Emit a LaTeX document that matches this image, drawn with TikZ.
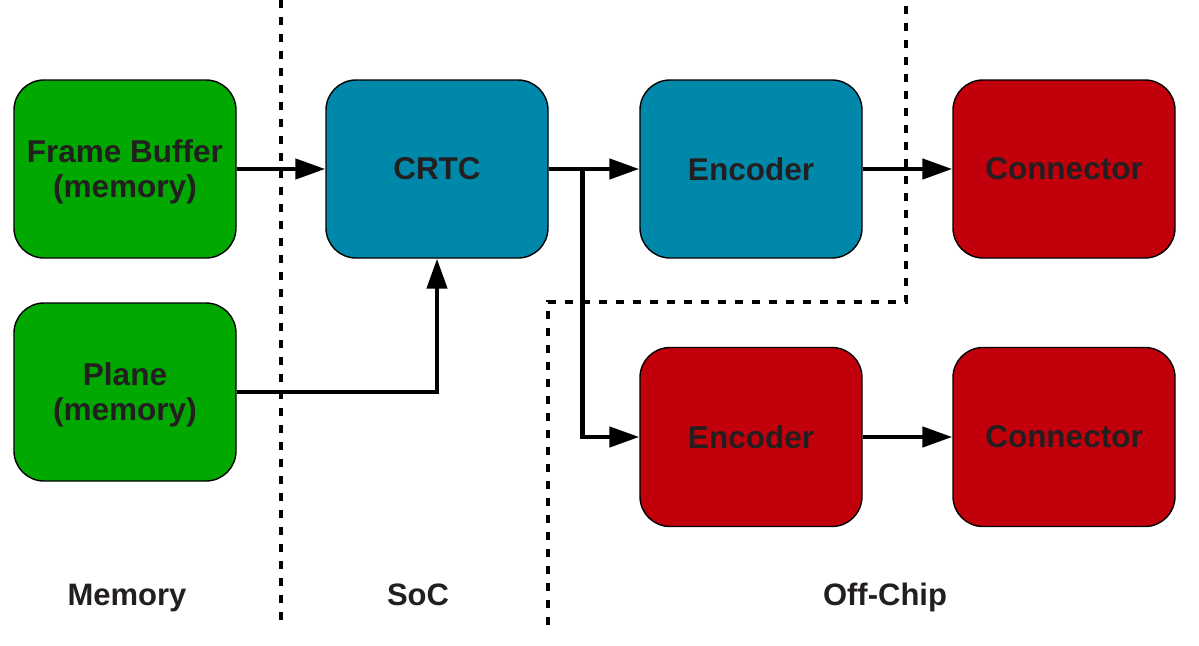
\documentclass[tikz,border=0pt]{standalone}
\usepackage{fontspec}
\setmainfont{Liberation Sans}
\usetikzlibrary{arrows.meta,calc}
\definecolor{memgreen}{HTML}{00A800}
\definecolor{socblue}{HTML}{0088AA}
\definecolor{offred}{HTML}{C1000B}
\definecolor{txt}{HTML}{231F20}
\newcommand{\toplinestrut}{\rule{0pt}{28pt}}
\tikzset{
  blk/.style={draw=black, line width=1.4pt, rounded corners=30pt, minimum width=222pt, minimum height=178pt, inner sep=0pt, align=center, text=txt, font=\fontsize{31.5}{35}\selectfont\bfseries},
  memblk/.style={blk, fill=memgreen},
  socblk/.style={blk, fill=socblue},
  offblk/.style={blk, fill=offred},
  conn/.style={line width=4.5pt, -{Triangle[length=30pt,width=20pt]}},
  border/.style={line width=4.5pt, dash pattern=on 8pt off 9pt},
  lbl/.style={text=txt, anchor=base, inner sep=0pt, font=\fontsize{31}{35}\selectfont\bfseries}
}
\begin{document}
\begin{tikzpicture}[x=1pt,y=-1pt]
\useasboundingbox (0,0) rectangle (1199,645);
% domain borders
\coordinate (b1top) at (281,0);
\coordinate (b1bot) at (281,620);
\coordinate (b2bot) at (548,625);
\coordinate (b2mid) at (548,302);
\coordinate (b2cor) at (906,302);
\coordinate (b2top) at (906,0);
\draw[border] (b1top) -- (b1bot);
\draw[border] (b2bot) -- (b2mid) -- (b2cor) -- (b2top);
% blocks
\node[memblk] (fb) at (125,169) {\toplinestrut Frame Buffer\\(memory)};
\node[memblk] (plane) at (125,392) {\toplinestrut Plane\\(memory)};
\node[socblk] (crtc) at (437,169) {CRTC};
\node[socblk] (enc1) at (751,169) {Encoder};
\node[offblk] (con1) at (1064,169) {Connector};
\node[offblk, minimum height=179pt] (enc2) at (751,437) {Encoder};
\node[offblk, minimum height=179pt] (con2) at (1064,437) {Connector};
% labels
\node[lbl] (lmem) at (127,605) {Memory};
\node[lbl] (lsoc) at (418,605) {SoC};
\node[lbl] (loff) at (885,605) {Off-Chip};
% connectors
\coordinate (br) at ($(crtc.east)+(34,0)$);
\draw[conn] (fb) -- (crtc);
\draw[conn] (plane.east) -| (crtc.south);
\draw[conn] (crtc) -- (enc1);
\draw[conn] (br) |- (enc2.west);
\draw[conn] (enc1) -- (con1);
\draw[conn] (enc2) -- (con2);
\end{tikzpicture}
\end{document}
